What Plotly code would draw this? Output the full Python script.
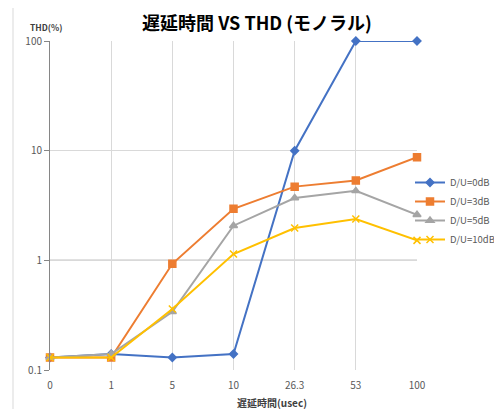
import plotly.graph_objects as go

categories = ["0", "1", "5", "10", "26.3", "53", "100"]
du_0db = [0.13, 0.14, 0.13, 0.14, 10.0, 100.0, 100.0]
du_3db = [0.13, 0.13, 0.93, 2.95, 4.7, 5.35, 8.7]
du_5db = [0.13, 0.14, 0.34, 2.07, 3.7, 4.3, 2.6]
du_10db = [0.13, 0.13, 0.36, 1.14, 1.97, 2.38, 1.52]
series_names = ["D/U=0dB", "D/U=3dB", "D/U=5dB", "D/U=10dB"]
colors = ["#4472C4", "#ED7D31", "#A5A5A5", "#FFC000"]
symbols = ["diamond", "square", "triangle-up", "x-thin"]
sizes = [6, 7, 7, 7]

FONT = "Noto Sans CJK JP, Noto Sans, sans-serif"
fig = go.Figure()
for name, vals, c, s, sz in zip(series_names, [du_0db, du_3db, du_5db, du_10db], colors, symbols, sizes):
    fig.add_trace(go.Scatter(
        x=categories, y=vals, name=name, mode="lines+markers",
        line=dict(color=c, width=2),
        marker=dict(symbol=s, size=sz, color=c, line=dict(color=c, width=1.5)),
        cliponaxis=False,
    ))

# page body has an 8px margin; lay out in screen pixels
OFF = 8
W, H = 502 - OFF, 409 - OFF
L, R, T, B = 50 - OFF, 502 - 417, 41 - OFF, 409 - 370
pw, ph = W - L - R, H - T - B
def sx(x): return (x - OFF - L) / pw
def sy(y): return (H - B - (y - OFF)) / ph

fig.update_layout(
    width=W, height=H,
    margin=dict(l=L, r=R, t=T, b=B, autoexpand=False),
    paper_bgcolor="white", plot_bgcolor="white",
    font=dict(family=FONT, color="#595959", size=10),
    title=dict(text="<b>遅延時間 VS THD (モノラル)</b>", x=(257 - OFF) / W, xanchor="center",
               y=1 - (24 - OFF) / H, yanchor="middle", font=dict(size=18, color="#000000", family=FONT)),
    xaxis=dict(type="category", range=[0, 6], showgrid=True, gridcolor="#D9D9D9", gridwidth=1,
               showline=False, ticks="", tickfont=dict(size=10, color="#595959"), ticklabelstandoff=8,
               automargin=False),
    yaxis=dict(type="log", range=[-1, 2], tickvals=[0.1, 1, 10, 100], ticktext=["0.1", "1", "10", "100"],
               showgrid=True, gridcolor="#D9D9D9", gridwidth=1, showline=True, linecolor="#868686",
               linewidth=1, ticks="outside", ticklen=5, tickcolor="#868686",
               tickfont=dict(size=10, color="#595959"), automargin=False),
    legend=dict(x=sx(410), y=sy(168), xanchor="left", yanchor="top", bgcolor="rgba(0,0,0,0)",
                font=dict(size=9.5, color="#595959"), itemwidth=30, tracegroupgap=0),
    showlegend=True,
)
fig.add_shape(type="line", xref="x domain", yref="y", x0=0, x1=1, y0=1, y1=1,
              line=dict(color="#868686", width=1.3), layer="below")
fig.add_shape(type="rect", xref="paper", yref="paper", x0=sx(13), x1=sx(498), y0=sy(420), y1=sy(5),
              line=dict(color="#D9D9D9", width=1), layer="below")
fig.add_annotation(text="<b>THD(%)</b>", xref="paper", yref="paper", x=sx(46), y=sy(27),
                   xanchor="center", yanchor="middle", showarrow=False,
                   font=dict(size=8.5, color="#404040", family=FONT))
fig.add_annotation(text="<b>遅延時間(usec)</b>", xref="paper", yref="paper", x=sx(272), y=sy(402),
                   xanchor="center", yanchor="middle", showarrow=False,
                   font=dict(size=10, color="#404040", family=FONT))
fig.write_html("out.html")
